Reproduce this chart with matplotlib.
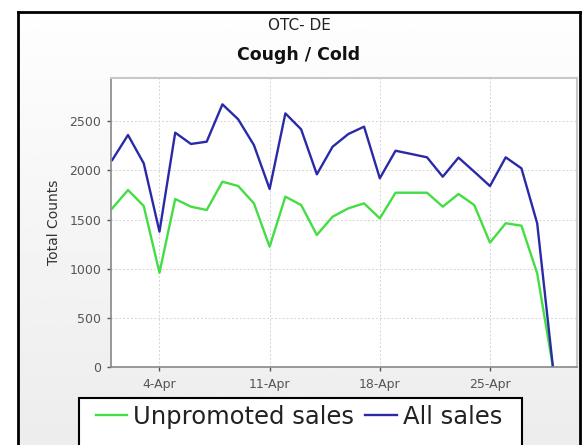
import datetime as dt
import numpy as np
import matplotlib
matplotlib.use("Agg")
import matplotlib.pyplot as plt
import matplotlib.dates as mdates
from matplotlib.patches import Rectangle
from matplotlib.lines import Line2D

# ---- data ----
dates = [dt.date(2009, 4, d) for d in range(1, 30)]
unpromoted = [1614, 1800, 1638, 959, 1709, 1631, 1597, 1885, 1841, 1665,
              1224, 1733, 1648, 1343, 1529, 1614, 1665, 1512, 1773, 1773,
              1773, 1631, 1760, 1648, 1265, 1462, 1438, 953, 0]
all_sales = [2106, 2360, 2072, 1377, 2384, 2269, 2292, 2672, 2520, 2258,
             1811, 2580, 2418, 1960, 2241, 2370, 2445, 1920, 2200, 2167,
             2133, 1936, 2130, 1987, 1841, 2133, 2021, 1462, 0]
xtick_dates = [dt.date(2009, 4, d) for d in (4, 11, 18, 25)]
yticks = [0, 500, 1000, 1500, 2000, 2500]
title1 = "OTC- DE"
title2 = "Cough / Cold"
series_labels = ["Unpromoted sales", "All sales"]
colors = ["#44dd44", "#2a2aa8"]

W, H = 587, 445
fig = plt.figure(figsize=(W / 100, H / 100), dpi=100)
fig.patch.set_facecolor("white")

# outer panel with gradient and black border
bg = fig.add_axes([18 / W, -0.02, (580 - 18) / W, (H - 12) / H + 0.02])
grad = np.linspace(0.995, 0.925, 256).reshape(-1, 1)
bg.imshow(grad, aspect="auto", cmap="gray", vmin=0, vmax=1,
          extent=[0, 1, 0, 1])
bg.set_xlim(0, 1)
bg.set_ylim(0, 1)
bg.set_xticks([])
bg.set_yticks([])
for s in bg.spines.values():
    s.set_color("black")
    s.set_linewidth(2)
bg.set_zorder(0)

# plot area
ax = fig.add_axes([111 / W, 1 - 367 / H, 466 / W, 289 / H])
ax.set_zorder(1)
ax.set_facecolor("white")
ax.plot(dates, unpromoted, color=colors[0], lw=1.7, label=series_labels[0])
ax.plot(dates, all_sales, color=colors[1], lw=1.7, label=series_labels[1])

x0 = mdates.date2num(dt.datetime(2009, 4, 1)) - 0.08
x1 = mdates.date2num(dt.datetime(2009, 4, 29)) + 1.53
ax.set_xlim(x0, x1)
ax.set_ylim(0, 2940)
ax.set_xticks([mdates.date2num(d) for d in xtick_dates])
ax.set_xticklabels([f"{d.day}-Apr" for d in xtick_dates])
ax.set_yticks(yticks)
ax.set_yticklabels([str(v) for v in yticks])
ax.tick_params(axis="both", labelsize=9, colors="#555555", length=3,
               width=1, direction="out", pad=4)
ax.tick_params(axis="x", pad=5)
ax.grid(True, color="#d4d4d4", lw=0.7, ls=(0, (2, 2)))
for side in ("left", "bottom"):
    ax.spines[side].set_color("#888888")
    ax.spines[side].set_linewidth(1.2)
for side in ("top", "right"):
    ax.spines[side].set_color("#c8c8c8")
    ax.spines[side].set_linewidth(1.5)
ax.set_ylabel("Total Counts", fontsize=10, color="#333333", labelpad=6)

fig.text(299 / W, 1 - 25 / H, title1, ha="center", va="center",
         fontsize=11, color="#222222")
fig.text(299 / W, 1 - 55 / H, title2, ha="center", va="center",
         fontsize=12.5, fontweight="bold", color="#111111")

# legend box
box = Rectangle((79 / W, -0.05), (522 - 79) / W, (1 - 398 / H) + 0.05,
                transform=fig.transFigure, facecolor="white",
                edgecolor="black", lw=1.5, zorder=2)
fig.patches.append(box)
handles = [Line2D([], [], color=c, lw=1.7) for c in colors]
leg = fig.legend(handles, series_labels, loc="center",
                 bbox_to_anchor=(299 / W, 1 - 417 / H), ncol=2,
                 frameon=False, fontsize=17.5, handlelength=1.3,
                 handletextpad=0.25, columnspacing=0.45,
                 borderpad=0.0, borderaxespad=0.0)
leg.set_zorder(3)
for t in leg.get_texts():
    t.set_color("#222222")

fig.savefig("out.png", dpi=100)
